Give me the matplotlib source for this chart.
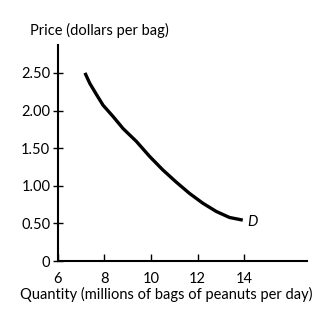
import matplotlib.pyplot as plt

plt.rcParams['font.family'] = ['Lato', 'DejaVu Sans']

# demand curve
quantity = [7.16, 7.37, 7.66, 7.94, 8.37, 8.80, 9.37, 9.94, 10.51, 11.08,
	11.65, 12.22, 12.80, 13.37, 13.94]
price = [2.50, 2.36, 2.21, 2.07, 1.92, 1.76, 1.59, 1.39, 1.21, 1.05,
	0.90, 0.77, 0.66, 0.58, 0.545]

x_ticks = [6, 8, 10, 12, 14]
y_ticks = [0, 0.5, 1.0, 1.5, 2.0, 2.5]
y_labels = ['0', '0.50', '1.00', '1.50', '2.00', '2.50']

fig = plt.figure(figsize=(3.33, 3.24), dpi=100)
ax = fig.add_axes([0.174, 0.194, 0.748, 0.667])

ax.plot(quantity, price, color='black', lw=2.4, solid_capstyle='butt',
	solid_joinstyle='round')
ax.text(14.15, 0.515, 'D', fontsize=10.5, style='italic', va='center', ha='left')

ax.set_xlim(6, 16.7)
ax.set_ylim(0, 2.87)
ax.set_xticks(x_ticks)
ax.set_yticks(y_ticks)
ax.set_yticklabels(y_labels)

for side in ('top', 'right'):
	ax.spines[side].set_visible(False)
for side in ('left', 'bottom'):
	ax.spines[side].set_linewidth(1.5)

ax.tick_params(axis='y', direction='inout', length=7, width=1, labelsize=10.5, pad=2)
ax.tick_params(axis='x', direction='in', length=5, width=1, labelsize=10.5, pad=8)

fig.text(0.5, 0.09, 'Quantity (millions of bags of peanuts per day)', fontsize=10.5,
	ha='center', va='center')
fig.text(0.09, 0.905, 'Price (dollars per bag)', fontsize=10.5, ha='left', va='center')

fig.savefig('out.png', dpi=100)
